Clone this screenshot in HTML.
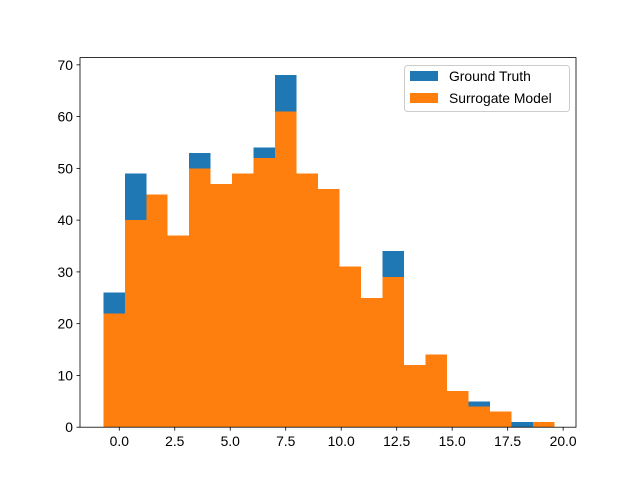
<!DOCTYPE html>
<html><head><meta charset="utf-8"><style>
body{margin:0;background:#fff}
svg{display:block;font-family:"Liberation Sans","DejaVu Sans",sans-serif}
</style></head><body>
<svg id="chart" width="640" height="480"></svg>
<script>
const binStart = -0.72;
const binWidth = 0.968;
const groundTruth = [26,49,45,37,53,47,49,54,68,49,46,31,25,34,12,14,7,5,3,1,1];
const surrogate = [22,40,45,37,50,47,49,52,61,49,46,31,25,29,12,14,7,4,3,0,1];
const xTicks = [0,2.5,5,7.5,10,12.5,15,17.5,20];
const xTickLabels = ["0.0","2.5","5.0","7.5","10.0","12.5","15.0","17.5","20.0"];
const yTicks = [0,10,20,30,40,50,60,70];

const L=80,R=576,T=57.6,B=427.2;
const xMin=-1.77,xMax=20.58,yMin=0,yMax=71.4;
const xs=v=>L+(v-xMin)/(xMax-xMin)*(R-L);
const ys=v=>B-(v-yMin)/(yMax-yMin)*(B-T);
const svg=document.getElementById('chart');
const NS="http://www.w3.org/2000/svg";
function mk(tag,attrs){const e=document.createElementNS(NS,tag);for(const k in attrs)e.setAttribute(k,attrs[k]);svg.appendChild(e);return e;}

function drawSeries(vals,color,name){
  vals.forEach((v,i)=>{
    if(v<=0)return;
    const x0=xs(binStart+i*binWidth),x1=xs(binStart+(i+1)*binWidth);
    const r=mk('rect',{x:x0,y:ys(v),width:x1-x0,height:ys(0)-ys(v),fill:color,'shape-rendering':'crispEdges'});
    
    
  });
}
drawSeries(groundTruth,'#1f77b4','ground-truth');
drawSeries(surrogate,'#ff7f0e','surrogate');

const frame=mk('rect',{x:L,y:T,width:R-L,height:B-T,fill:'none',stroke:'#000','stroke-width':0.8});



xTicks.forEach((t,i)=>{
  const x=xs(t);
  mk('line',{x1:x,x2:x,y1:B,y2:B+3.5,stroke:'#000','stroke-width':0.8});
  const tx=mk('text',{x:x,y:B+19,'text-anchor':'middle','font-size':13.9});
  tx.textContent=xTickLabels[i];
  
  
});
yTicks.forEach(t=>{
  const y=ys(t);
  mk('line',{x1:L,x2:L-3.5,y1:y,y2:y,stroke:'#000','stroke-width':0.8});
  const tx=mk('text',{x:L-7,y:y+5,'text-anchor':'end','font-size':13.9});
  tx.textContent=t;
  
  
});

const g=document.createElementNS(NS,'g');


svg.appendChild(g);
function gmk(tag,attrs){const e=document.createElementNS(NS,tag);for(const k in attrs)e.setAttribute(k,attrs[k]);g.appendChild(e);return e;}
gmk('rect',{x:404.5,y:65.5,width:165,height:46,fill:'#fff','fill-opacity':0.8,stroke:'#ccc',rx:3});
gmk('rect',{x:410,y:71,width:28,height:10,fill:'#1f77b4'});
const l1=gmk('text',{x:449,y:81,'font-size':13.9});l1.textContent='Ground Truth';


gmk('rect',{x:410,y:93,width:28,height:10,fill:'#ff7f0e'});
const l2=gmk('text',{x:449,y:103,'font-size':13.9});l2.textContent='Surrogate Model';


</script>
</body></html>
